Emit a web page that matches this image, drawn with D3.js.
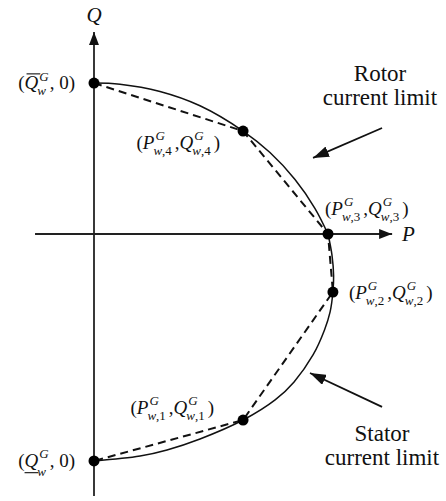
<!DOCTYPE html>
<html lang="en">

<head>
	<meta charset="UTF-8" />
	<title>Rotor and stator current limits</title>
	<script src="https://cdn.jsdelivr.net/npm/d3@7"></script>
	<style>
		body { margin: 0; background: #fff; }
		svg { display: block; }
		text { font-family: "Liberation Serif", "Times New Roman", serif; fill: #111; }
	</style>
</head>

<body>
	<svg id="vis" width="446" height="501"></svg>

	<script>
		// Operating points (P, Q), top to bottom
		var pointP = [0, 0.637, 1.0, 1.021, 0.637, 0];
		var pointQ = [0.645, 0.440, 0, -0.248, -0.795, -0.970];

		// Rotor current limit (upper arc)
		var rotorP = [0, 0.111, 0.282, 0.453, 0.637, 0.752, 0.859, 0.944, 1.0];
		var rotorQ = [0.645, 0.640, 0.609, 0.548, 0.440, 0.348, 0.233, 0.110, 0];

		// Stator current limit (lower arc)
		var statorP = [1.0, 1.017, 1.024, 1.021, 1.009, 0.985, 0.936, 0.855, 0.774, 0.637, 0.453, 0.312, 0.197, 0];
		var statorQ = [0, -0.090, -0.179, -0.248, -0.333, -0.410, -0.517, -0.632, -0.709, -0.795, -0.876, -0.923, -0.949, -0.970];

		// Axis extents
		var axisP = [-0.252, 1.274];
		var axisQ = [-1.120, 0.863];

		// Point labels
		var pointLabels = [
			["(", { b: "Q", over: true, sup: "G", sub: "w" }, ", 0)"],
			["(", { b: "P", sup: "G", sub: "w,4" }, ", ", { b: "Q", sup: "G", sub: "w,4" }, ")"],
			["(", { b: "P", sup: "G", sub: "w,3" }, ", ", { b: "Q", sup: "G", sub: "w,3" }, ")"],
			["(", { b: "P", sup: "G", sub: "w,2" }, ", ", { b: "Q", sup: "G", sub: "w,2" }, ")"],
			["(", { b: "P", sup: "G", sub: "w,1" }, ", ", { b: "Q", sup: "G", sub: "w,1" }, ")"],
			["(", { b: "Q", under: true, sup: "G", sub: "w" }, ", 0)"]
		];
		var noteTexts = [["Rotor", "current limit"], ["Stator", "current limit"]];

		var svg = d3.select("#vis");

		var x = d3.scaleLinear().domain([0, 1]).range([94, 328]);
		var y = d3.scaleLinear().domain([0, 1]).range([234, 0]);

		// Arrow heads
		var defs = svg.append("defs");
		function marker(id, w, h) {
			defs.append("marker")
				.attr("id", id)
				.attr("viewBox", "0 0 " + w + " " + h)
				.attr("refX", w).attr("refY", h / 2)
				.attr("markerWidth", w).attr("markerHeight", h)
				.attr("markerUnits", "userSpaceOnUse")
				.attr("orient", "auto")
				.append("path")
				.attr("d", "M0,0L" + w + "," + (h / 2) + "L0," + h + "Z")
				.attr("fill", "#111");
		}
		marker("axisHead", 13, 10);
		marker("noteHead", 16, 11);

		// Axes
		svg.append("line")
			.attr("x1", x(axisP[0])).attr("y1", y(0))
			.attr("x2", x(axisP[1])).attr("y2", y(0))
			.attr("stroke", "#222").attr("stroke-width", 1.8)
			.attr("marker-end", "url(#axisHead)");
		svg.append("line")
			.attr("x1", x(0)).attr("y1", y(axisQ[0]))
			.attr("x2", x(0)).attr("y2", y(axisQ[1]))
			.attr("stroke", "#222").attr("stroke-width", 1.8)
			.attr("marker-end", "url(#axisHead)");

		svg.append("text")
			.attr("x", x(axisP[1]) + 10).attr("y", y(0) + 7)
			.attr("font-size", 21).attr("font-style", "italic")
			.text("P");
		svg.append("text")
			.attr("x", x(0)).attr("y", y(axisQ[1]) - 10)
			.attr("text-anchor", "middle")
			.attr("font-size", 21).attr("font-style", "italic")
			.text("Q");

		// Limit curves
		var line = d3.line()
			.x(function (d) { return x(d[0]); })
			.y(function (d) { return y(d[1]); })
			.curve(d3.curveCatmullRom.alpha(0.5));

		svg.append("path")
			.attr("d", line(d3.zip(rotorP, rotorQ)))
			.attr("fill", "none").attr("stroke", "#111").attr("stroke-width", 1.5);
		svg.append("path")
			.attr("d", line(d3.zip(statorP, statorQ)))
			.attr("fill", "none").attr("stroke", "#111").attr("stroke-width", 1.5);

		// Piecewise linear approximation
		var poly = d3.line()
			.x(function (d) { return x(d[0]); })
			.y(function (d) { return y(d[1]); });
		svg.append("path")
			.attr("d", poly(d3.zip(pointP, pointQ)))
			.attr("fill", "none").attr("stroke", "#111").attr("stroke-width", 2)
			.attr("stroke-dasharray", "8,5");

		// Points
		svg.selectAll("circle.pt")
			.data(d3.zip(pointP, pointQ))
			.join("circle")
			.attr("class", "pt")
			.attr("cx", function (d) { return x(d[0]); })
			.attr("cy", function (d) { return y(d[1]); })
			.attr("r", 5.5)
			.attr("fill", "#000");

		// Math label with stacked super/subscripts
		function mathLabel(tokens, px, py, anchor) {
			var g = svg.append("g");
			var cx = 0, fs = 19, ss = 13;
			tokens.forEach(function (tk) {
				if (typeof tk === "string") {
					var t = g.append("text").attr("x", cx).attr("font-size", fs).text(tk);
					cx += t.node().getComputedTextLength();
				} else {
					var b = g.append("text").attr("x", cx)
						.attr("font-size", fs).attr("font-style", "italic").text(tk.b);
					var bw = b.node().getComputedTextLength();
					if (tk.over) {
						g.append("line")
							.attr("x1", cx + 2).attr("x2", cx + bw + 2)
							.attr("y1", -fs * 0.8).attr("y2", -fs * 0.8)
							.attr("stroke", "#111").attr("stroke-width", 1.1);
					}
					if (tk.under) {
						g.append("line")
							.attr("x1", cx).attr("x2", cx + bw)
							.attr("y1", fs * 0.3).attr("y2", fs * 0.3)
							.attr("stroke", "#111").attr("stroke-width", 1.1);
					}
					var sx = cx + bw + 1;
					var sup = g.append("text").attr("x", sx).attr("y", -fs * 0.45)
						.attr("font-size", ss).attr("font-style", "italic").text(tk.sup);
					var sub = g.append("text").attr("x", sx - 2)
						.attr("y", fs * 0.3 + (tk.under ? 3 : 0))
						.attr("font-size", ss);
					sub.append("tspan").attr("font-style", "italic").text(tk.sub[0]);
					if (tk.sub.length > 1) sub.append("tspan").text(tk.sub.slice(1));
					cx = sx + Math.max(sup.node().getComputedTextLength(),
						sub.node().getComputedTextLength()) + 1;
				}
			});
			var dx = anchor === "end" ? px - cx : px;
			g.attr("transform", "translate(" + dx + "," + py + ")");
		}

		// Label placement relative to each point: [dx, dy, anchor]
		var labelPos = [[-19, 6, "end"], [-23, 18, "end"], [-3, -19, "start"],
		[16, 7, "start"], [-29, -6, "end"], [-19, 6, "end"]];
		pointLabels.forEach(function (lab, i) {
			mathLabel(lab, x(pointP[i]) + labelPos[i][0], y(pointQ[i]) + labelPos[i][1], labelPos[i][2]);
		});

		// Annotations
		function note(lines, px, py, from, to) {
			var t = svg.append("text")
				.attr("x", px).attr("y", py)
				.attr("text-anchor", "middle")
				.attr("font-size", 23);
			lines.forEach(function (s, i) {
				t.append("tspan").attr("x", px).attr("dy", i === 0 ? 0 : 24).text(s);
			});
			svg.append("line")
				.attr("x1", x(from[0])).attr("y1", y(from[1]))
				.attr("x2", x(to[0])).attr("y2", y(to[1]))
				.attr("stroke", "#111").attr("stroke-width", 1.8)
				.attr("marker-end", "url(#noteHead)");
		}
		note(noteTexts[0], 380, 81, [1.231, 0.453], [0.936, 0.325]);
		note(noteTexts[1], 382, 441, [1.231, -0.739], [0.923, -0.594]);
	</script>
</body>

</html>
